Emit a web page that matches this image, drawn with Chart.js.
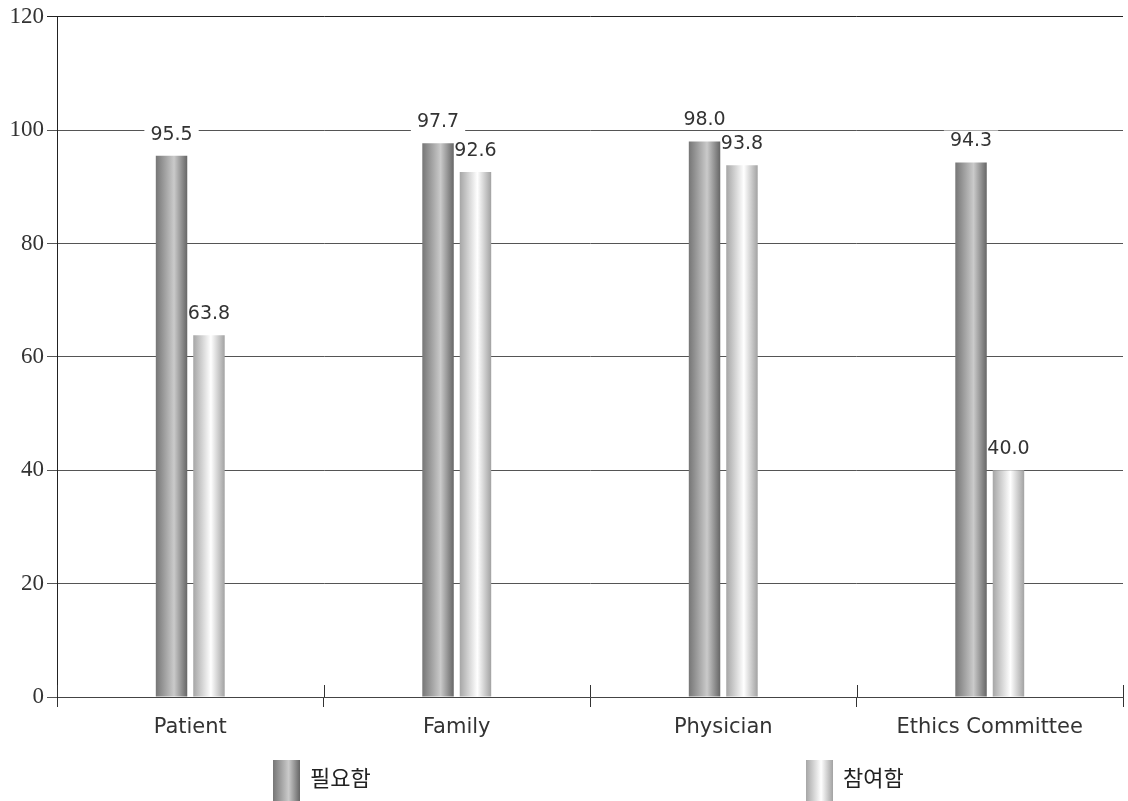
<!DOCTYPE html>
<html>
<head>
<meta charset="utf-8">
<script src="https://cdn.jsdelivr.net/npm/chart.js@4.4.0/dist/chart.umd.min.js"></script>
<style>
  html, body { margin: 0; padding: 0; background: #ffffff; }
  #wrap { width: 1128px; height: 801px; }
</style>
</head>
<body>
<div id="wrap"><canvas id="chart" width="1128" height="801"></canvas></div>
<script>
// Categories and series
const categories = ['Patient', 'Family', 'Physician', 'Ethics Committee'];
const seriesNames = ['필요함', '참여함'];
const needed = [95.5, 97.7, 98.0, 94.3];
const participated = [63.8, 92.6, 93.8, 40.0];
const yTicks = [0, 20, 40, 60, 80, 100, 120];

// Horizontal "cylinder" shading for each series
const shadeStops = [
  [[0, '#767676'], [0.58, '#cacaca'], [1, '#666666']],
  [[0, '#a6a6a6'], [0.56, '#ffffff'], [1, '#a2a2a2']]
];

const labelFont = '19px "DejaVu Sans", sans-serif';
const labelLift = 22;

function makeShade(ctx, x0, x1, stops) {
  const g = ctx.createLinearGradient(x0, 0, x1, 0);
  stops.forEach(([o, c]) => g.addColorStop(o, c));
  return g;
}

function eachBar(chart, fn) {
  chart.data.datasets.forEach((ds, di) => {
    chart.getDatasetMeta(di).data.forEach((el, i) => fn(el, ds, di, i));
  });
}

// Shade every bar and clear the grid behind the value labels before bars are painted
const barShading = {
  id: 'barShading',
  beforeDatasetsDraw(chart) {
    const ctx = chart.ctx;
    ctx.save();
    ctx.font = labelFont;
    eachBar(chart, (el, ds, di, i) => {
      const { x, y, width } = el.getProps(['x', 'y', 'width'], true);
      el.options.backgroundColor = makeShade(ctx, x - width / 2, x + width / 2, shadeStops[di]);
      const w = ctx.measureText(ds.data[i].toFixed(1)).width;
      const cy = y - labelLift;
      ctx.fillStyle = '#ffffff';
      ctx.fillRect(x - w / 2 - 6, cy - 10, w + 12, 20);
    });
    ctx.restore();
  }
};

// Value labels above bars
const valueLabels = {
  id: 'valueLabels',
  afterDatasetsDraw(chart) {
    const ctx = chart.ctx;
    ctx.save();
    ctx.font = labelFont;
    ctx.textAlign = 'center';
    ctx.textBaseline = 'middle';
    ctx.fillStyle = '#333333';
    eachBar(chart, (el, ds, di, i) => {
      const { x, y } = el.getProps(['x', 'y'], true);
      ctx.fillText(ds.data[i].toFixed(1), x, y - labelLift + 1);
    });
    ctx.restore();
  }
};

// Category separators also rise a little above the baseline
const separatorTicks = {
  id: 'separatorTicks',
  afterDraw(chart) {
    const ctx = chart.ctx;
    const xs = chart.scales.x;
    const y0 = chart.scales.y.getPixelForValue(0);
    ctx.save();
    ctx.strokeStyle = '#333333';
    ctx.lineWidth = 1;
    for (let i = 0; i <= categories.length; i++) {
      const px = Math.round(xs.getPixelForValue(i - 0.5)) + 0.5;
      ctx.beginPath();
      ctx.moveTo(px, y0 - 12);
      ctx.lineTo(px, y0);
      ctx.stroke();
    }
    ctx.restore();
  }
};

// Legend with shaded swatches under the axis
const shadedLegend = {
  id: 'shadedLegend',
  afterDraw(chart) {
    const ctx = chart.ctx;
    const area = chart.chartArea;
    const mid = (area.left + area.right) / 2;
    const starts = [mid - 317, mid + 216];
    const top = 760;
    const sw = 27;
    ctx.save();
    ctx.font = '22px "Noto Sans CJK KR", sans-serif';
    ctx.textBaseline = 'middle';
    ctx.textAlign = 'left';
    chart.data.datasets.forEach((ds, di) => {
      const x = starts[di];
      ctx.fillStyle = makeShade(ctx, x, x + sw, shadeStops[di]);
      ctx.fillRect(x, top, sw, 42);
      ctx.fillStyle = '#222222';
      ctx.fillText(ds.label, x + sw + 10, 778);
    });
    ctx.restore();
  }
};

new Chart(document.getElementById('chart'), {
  type: 'bar',
  data: {
    labels: categories,
    datasets: [
      { label: seriesNames[0], data: needed, backgroundColor: () => '#999999', borderWidth: 0 },
      { label: seriesNames[1], data: participated, backgroundColor: () => '#dddddd', borderWidth: 0 }
    ]
  },
  options: {
    responsive: false,
    animation: false,
    events: [],
    categoryPercentage: 0.281,
    barPercentage: 0.84,
    layout: { padding: { top: 15, right: 5, bottom: 0, left: 0 } },
    plugins: {
      legend: { display: false },
      tooltip: { enabled: false },
      title: { display: false }
    },
    scales: {
      x: {
        grid: {
          offset: true,
          drawOnChartArea: false,
          drawTicks: true,
          tickLength: 10,
          color: '#333333'
        },
        border: { display: true, color: '#444444', width: 1 },
        ticks: {
          color: '#333333',
          font: { family: '"DejaVu Sans", sans-serif', size: 21 },
          padding: 8,
          maxRotation: 0
        },
        afterFit(scale) { scale.height = 104; }
      },
      y: {
        min: 0,
        max: 120,
        afterBuildTicks(scale) { scale.ticks = yTicks.map(v => ({ value: v })); },
        grid: {
          drawTicks: true,
          tickLength: 10,
          color: ctx => (ctx.tick && ctx.tick.value === 120 ? '#222222' : '#555555'),
          lineWidth: 1
        },
        border: { display: true, color: '#222222', width: 1 },
        ticks: {
          color: '#333333',
          font: { family: '"Liberation Serif", serif', size: 23 },
          padding: 3
        },
        afterFit(scale) { scale.width = 57; }
      }
    }
  },
  plugins: [barShading, valueLabels, separatorTicks, shadedLegend]
});
</script>
</body>
</html>
